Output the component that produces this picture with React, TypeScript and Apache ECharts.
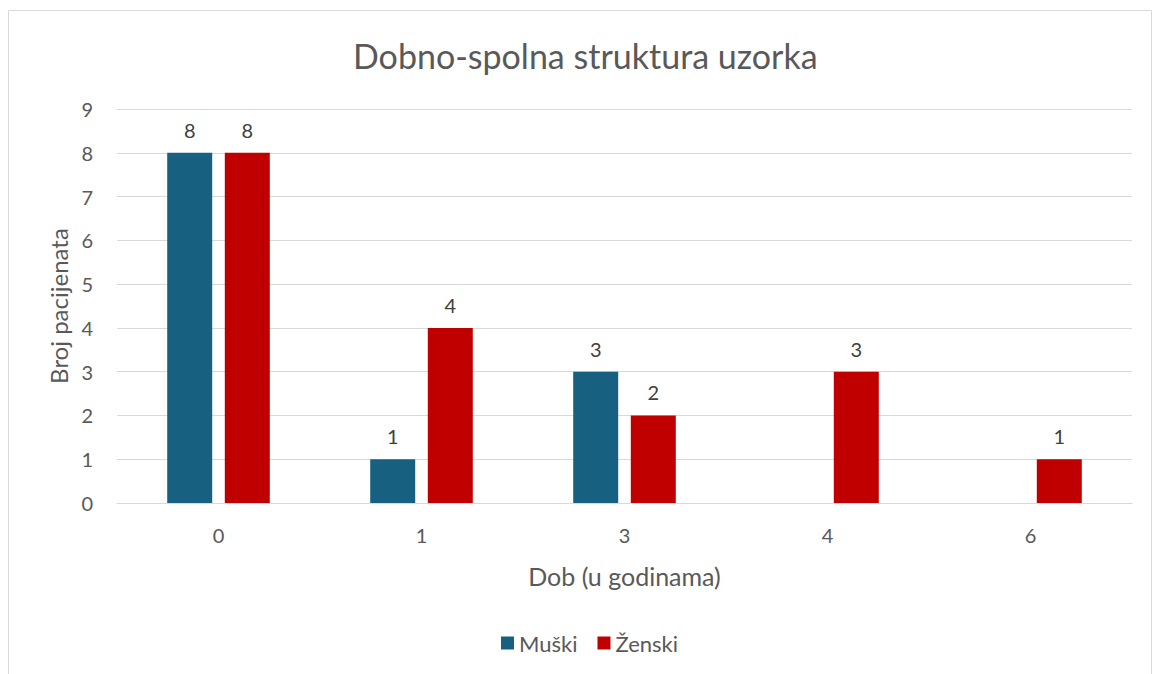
import React, { useEffect, useRef } from "react";
import * as echarts from "echarts";

const categories = ["0", "1", "3", "4", "6"];
const muski: (number | null)[] = [8, 1, 3, null, null];
const zenski: (number | null)[] = [8, 4, 2, 3, 1];
const titleText = "Dobno-spolna struktura uzorka";
const xName = "Dob (u godinama)";
const yName = "Broj pacijenata";

const FONT = "Lato, 'Open Sans', sans-serif";
const TXT = "#595959";

export default function App() {
  const ref = useRef<HTMLDivElement>(null);
  useEffect(() => {
    if (!ref.current) return;
    const chart = echarts.init(ref.current, null, { renderer: "svg" });
    const label = {
      show: true,
      position: "top",
      distance: 13,
      color: "#404040",
      fontSize: 20,
      fontFamily: FONT,
    };
    chart.setOption({
      animation: false,
      backgroundColor: "#fff",
      textStyle: { fontFamily: FONT },
      graphic: [
        {
          type: "rect",
          shape: { x: 8.5, y: 10.5, width: 1143, height: 700 },
          style: { fill: "none", stroke: "#d9d9d9", lineWidth: 1 },
          silent: true,
        },
      ],
      title: {
        text: titleText,
        left: 348,
        top: 33,
        textStyle: { color: TXT, fontSize: 34, fontWeight: "normal", fontFamily: FONT },
      },
      grid: { left: 117, right: 21, top: 109, bottom: 171, containLabel: false },
      legend: {
        top: 627,
        left: 496,
        itemWidth: 13,
        itemHeight: 13,
        itemGap: 20,
        icon: "rect",
        textStyle: { color: TXT, fontSize: 22, fontFamily: FONT },
        data: ["Muški", "Ženski"],
      },
      xAxis: {
        type: "category",
        data: categories,
        name: xName,
        nameLocation: "middle",
        nameGap: 60,
        nameTextStyle: { color: TXT, fontSize: 25, fontFamily: FONT },
        axisLine: { lineStyle: { color: "#d9d9d9", width: 1 } },
        axisTick: { show: false },
        axisLabel: { color: TXT, fontSize: 20, margin: 22, fontFamily: FONT },
      },
      yAxis: {
        type: "value",
        min: 0,
        max: 9,
        interval: 1,
        name: yName,
        nameLocation: "middle",
        nameGap: 46,
        nameTextStyle: { color: TXT, fontSize: 24, fontFamily: FONT },
        axisLine: { show: false },
        axisTick: { show: false },
        axisLabel: { color: TXT, fontSize: 20, margin: 24, fontFamily: FONT },
        splitLine: { lineStyle: { color: "#d9d9d9", width: 1 } },
      },
      series: [
        {
          name: "Muški",
          type: "bar",
          data: muski,
          barWidth: 45,
          barGap: "28%",
          itemStyle: { color: "#17607F" },
          label,
        },
        {
          name: "Ženski",
          type: "bar",
          data: zenski,
          barWidth: 45,
          barGap: "28%",
          itemStyle: { color: "#C00000" },
          label,
        },
      ],
    });
    return () => chart.dispose();
  }, []);
  return (
    <div
      ref={ref}
      style={{ position: "absolute", left: 0, top: 0, width: 1153, height: 674 }}
    />
  );
}
